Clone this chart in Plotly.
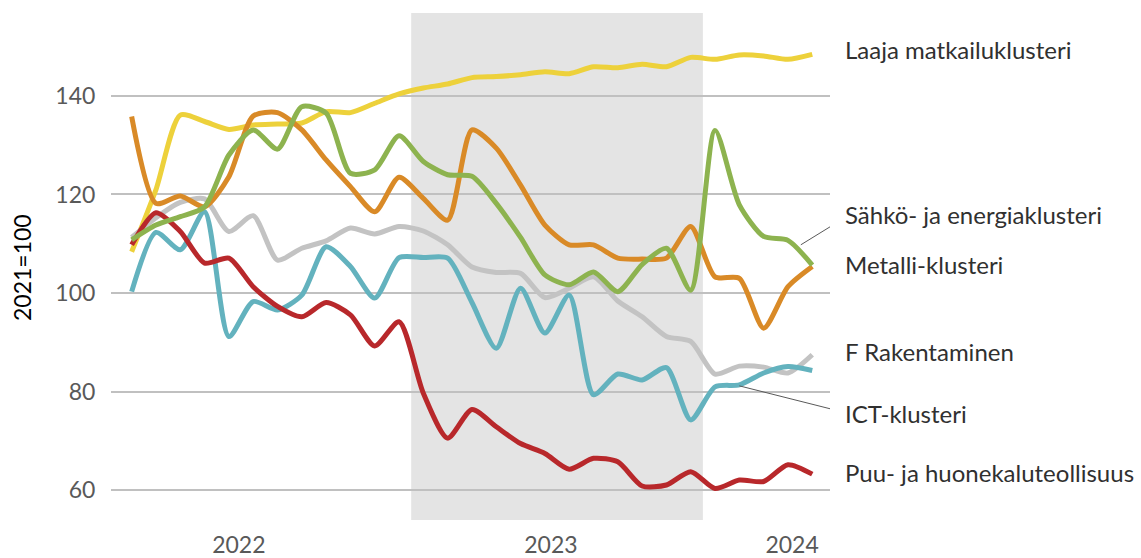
import plotly.graph_objects as go

# Monthly index positions (0 = first month shown)
months = list(range(29))

matkailu = [108.4, 121.0, 136.1, 134.8, 133.2, 134.1, 134.3, 134.5, 136.8, 136.6, 138.5, 140.4, 141.6, 142.4,
            143.7, 143.9, 144.3, 144.9, 144.5, 145.9, 145.7, 146.4, 145.9, 147.8, 147.4, 148.3, 148.1, 147.4, 148.4]
metalli = [135.8, 118.2, 119.7, 117.5, 123.6, 135.9, 136.6, 133.1, 127.0, 121.6, 116.5, 123.5, 119.2, 114.8,
           133.1, 129.4, 121.9, 113.8, 109.8, 109.8, 107.1, 106.9, 107.1, 113.5, 103.3, 103.0, 92.9, 101.3, 105.4]
sahko = [110.8, 113.8, 115.5, 117.5, 128.0, 133.1, 129.2, 137.8, 136.5, 124.3, 125.0, 131.9, 126.7, 124.0,
         123.7, 118.2, 111.3, 103.7, 101.7, 104.3, 100.3, 105.8, 109.1, 100.6, 133.0, 117.9, 111.5, 110.7, 105.7]
rakentaminen = [111.3, 115.3, 118.4, 119.1, 112.5, 115.7, 106.7, 109.1, 110.6, 113.2, 112.0, 113.5, 112.6, 109.8,
                105.3, 104.2, 104.0, 99.1, 101.0, 103.3, 98.4, 95.2, 91.2, 90.2, 83.6, 85.2, 85.0, 83.8, 87.5]
ict = [100.3, 112.3, 108.8, 116.5, 91.2, 98.3, 96.6, 99.6, 109.4, 105.4, 99.0, 107.2, 107.2, 107.1,
       98.1, 88.8, 101.0, 91.9, 99.6, 79.4, 83.6, 82.4, 84.9, 74.3, 81.0, 81.4, 83.8, 85.1, 84.3]
puu = [109.8, 116.3, 112.5, 106.1, 107.1, 101.3, 97.3, 95.2, 98.1, 95.6, 89.3, 94.2, 79.7, 70.6,
       76.4, 72.9, 69.5, 67.5, 64.3, 66.5, 65.8, 60.9, 61.1, 63.8, 60.4, 62.1, 61.8, 65.2, 63.3]

year_ticks = [4.41, 17.25, 27.17]
year_labels = ["2022", "2023", "2024"]
shade_start, shade_end = 11.5, 23.5

series = [
    ("Laaja matkailuklusteri", matkailu, "#EDD13B", 149.3),
    ("F Rakentaminen", rakentaminen, "#C3C3C3", 88.1),
    ("ICT-klusteri", ict, "#63B2BE", 75.5),
    ("Puu- ja huonekaluteollisuus", puu, "#B8282B", 63.7),
    ("Metalli-klusteri", metalli, "#D98A27", 105.9),
    ("Sähkö- ja energiaklusteri", sahko, "#8DB34F", 115.9),
]

FONT = "Lato, Carlito, 'Open Sans', sans-serif"

fig = go.Figure()
for name, vals, color, _ in series:
    fig.add_trace(go.Scatter(x=months, y=vals, mode="lines", name=name,
                             line=dict(color=color, width=5, shape="spline", smoothing=0.7),
                             hoverinfo="x+y+name"))

fig.add_shape(type="rect", xref="x", yref="paper", x0=shade_start, x1=shade_end, y0=0, y1=1,
              fillcolor="#E4E4E4", line=dict(width=0), layer="below")

# leader lines for labels
fig.add_shape(type="line", xref="x", yref="y", x0=27.53, y0=109.8, x1=28.98, y1=114.2,
              line=dict(color="#595959", width=1))
fig.add_shape(type="line", xref="x", yref="y", x0=25.0, y0=81.2, x1=28.94, y1=76.3,
              line=dict(color="#595959", width=1))

for name, vals, color, ly in series:
    fig.add_annotation(text=name, xref="paper", yref="y", x=(843 - 111) / 719, y=ly, xanchor="left",
                       yanchor="middle", showarrow=False,
                       font=dict(family=FONT, size=24, color="#303030"))

fig.add_annotation(text="2021=100", xref="paper", yref="paper", x=(22 - 111) / 719, y=0.497,
                   textangle=-90, showarrow=False, xanchor="center", yanchor="middle",
                   font=dict(family=FONT, size=23, color="#000000"))

fig.update_layout(
    width=1141, height=558,
    margin=dict(l=111, r=311, t=13, b=38, autoexpand=False),
    paper_bgcolor="white", plot_bgcolor="white",
    showlegend=False,
    xaxis=dict(range=[-0.85, 28.73], tickvals=year_ticks, ticktext=year_labels,
               showgrid=False, zeroline=False, showline=False, automargin=False,
               ticks="outside", ticklen=4, tickcolor="rgba(0,0,0,0)",
               tickfont=dict(family=FONT, size=23, color="#595959")),
    yaxis=dict(range=[54, 156.8], tickvals=[60, 80, 100, 120, 140],
               showgrid=True, gridcolor="#C0C0C0", gridwidth=1.6, zeroline=False, showline=False,
               automargin=False,
               ticks="outside", ticklen=10, tickcolor="rgba(0,0,0,0)",
               tickfont=dict(family=FONT, size=23, color="#595959")),
)

fig.write_html("out.html", config={"displayModeBar": False},
               post_script="document.body.style.margin='0';document.body.style.padding='0';")
